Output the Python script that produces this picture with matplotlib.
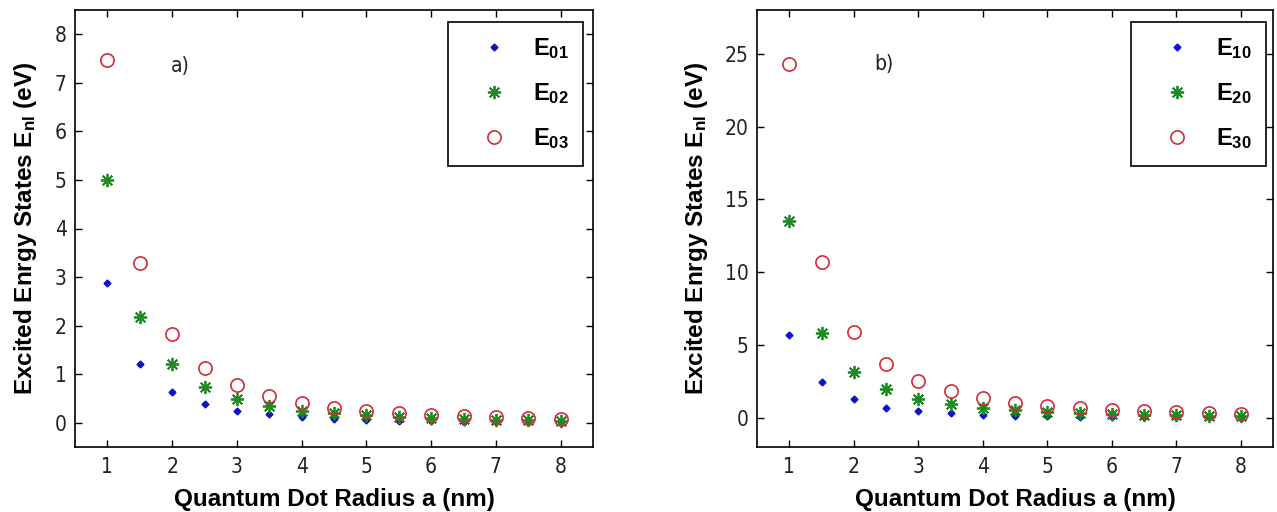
import matplotlib
matplotlib.use("Agg")
import matplotlib.pyplot as plt
from matplotlib.ticker import MultipleLocator

plt.rcParams['mathtext.fontset'] = 'custom'
plt.rcParams['mathtext.rm'] = 'Liberation Sans:bold'
plt.rcParams['mathtext.bf'] = 'Liberation Sans:bold'
plt.rcParams['mathtext.it'] = 'Liberation Sans:bold'

radius = [1, 1.5, 2, 2.5, 3, 3.5, 4, 4.5, 5, 5.5, 6, 6.5, 7, 7.5, 8]

E01 = [2.87, 1.20, 0.63, 0.38, 0.25, 0.17, 0.11, 0.08, 0.06, 0.04, 0.03, 0.02, 0.02, 0.01, 0.01]
E02 = [5.00, 2.17, 1.20, 0.74, 0.49, 0.34, 0.25, 0.19, 0.15, 0.12, 0.09, 0.07, 0.06, 0.05, 0.04]
E03 = [7.48, 3.29, 1.82, 1.12, 0.77, 0.55, 0.41, 0.31, 0.24, 0.20, 0.16, 0.13, 0.11, 0.09, 0.07]

E10 = [5.70, 2.45, 1.27, 0.70, 0.45, 0.32, 0.22, 0.15, 0.12, 0.09, 0.07, 0.05, 0.04, 0.03, 0.03]
E20 = [13.5, 5.80, 3.15, 1.95, 1.30, 0.92, 0.68, 0.52, 0.40, 0.32, 0.26, 0.21, 0.17, 0.14, 0.12]
E30 = [24.3, 10.7, 5.90, 3.70, 2.50, 1.85, 1.38, 1.05, 0.82, 0.67, 0.55, 0.45, 0.38, 0.33, 0.28]

labels_a = [r'$\mathbf{E_{01}}$', r'$\mathbf{E_{02}}$', r'$\mathbf{E_{03}}$']
labels_b = [r'$\mathbf{E_{10}}$', r'$\mathbf{E_{20}}$', r'$\mathbf{E_{30}}$']

BLUE = '#0a14c8'
GREEN = '#1f8a24'
RED = '#d42a3a'

fig = plt.figure(figsize=(12.77, 5.12), dpi=100)
ax1 = fig.add_axes([75 / 1277, 65 / 512, 518 / 1277, 437 / 512])
ax2 = fig.add_axes([757 / 1277, 65 / 512, 516 / 1277, 437 / 512])


def draw(ax, s1, s2, s3, labels, ylim, ystep, tag, tagpos, legx):
    ax.plot(radius, s1, linestyle='none', marker='D', markersize=3.5,
            color=BLUE, label=labels[0])
    ax.plot(radius, s2, linestyle='none', marker=(8, 2, 0), markersize=9.5,
            markeredgewidth=1.3, color=GREEN, label=labels[1])
    ax.plot(radius, s3, linestyle='none', marker='o', markersize=9.5,
            markerfacecolor='none', markeredgewidth=1.2, color=RED, label=labels[2])
    ax.set_xlim(0.5, 8.5)
    ax.set_ylim(*ylim)
    ax.xaxis.set_major_locator(MultipleLocator(1))
    ax.yaxis.set_major_locator(MultipleLocator(ystep))
    ax.tick_params(direction='in', top=True, right=True, length=5, width=1,
                   labelsize=15)
    ax.tick_params(axis='x', pad=7)
    ax.tick_params(axis='y', pad=6)
    for lab in ax.get_xticklabels() + ax.get_yticklabels():
        lab.set_family('DejaVu Sans')
        lab.set_stretch('condensed')
        lab.set_color('#222222')
    for sp in ax.spines.values():
        sp.set_linewidth(1.2)
    ax.set_xlabel('Quantum Dot Radius a (nm)', fontsize=17.5, fontweight='bold',
                  family='Liberation Sans', labelpad=8)
    ax.set_ylabel(r'Excited Enrgy States E$_{\mathbf{nl}}$ (eV)', fontsize=17.5,
                  fontweight='bold', family='Liberation Sans', labelpad=11)
    t = ax.text(tagpos[0], tagpos[1], tag, fontsize=15, family='DejaVu Sans',
                ha='center', va='center', color='#222222')
    t.set_stretch('condensed')
    leg = ax.legend(loc='upper right', bbox_to_anchor=(legx, 1 - 12 / 437),
                    fontsize=17, frameon=True, fancybox=False, framealpha=1,
                    edgecolor='black', labelspacing=0.86, handlelength=2.7,
                    handletextpad=0.3, borderpad=0.6, borderaxespad=0)
    leg.get_frame().set_linewidth(1.2)


draw(ax1, E01, E02, E03, labels_a, (-0.5, 8.5), 1, 'a)', (2.13, 7.35), 1 - 10 / 518)
draw(ax2, E10, E20, E30, labels_b, (-2, 28), 5, 'b)', (2.46, 24.3), 1 - 7 / 516)

fig.savefig('out.png', dpi=100)
